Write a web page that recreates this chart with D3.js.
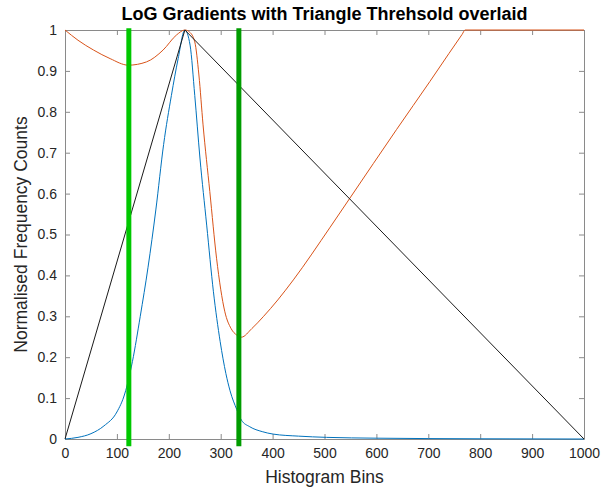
<!DOCTYPE html>
<html>
<head>
<meta charset="utf-8">
<script src="https://cdn.jsdelivr.net/npm/d3@7"></script>
<style>
  html, body { margin: 0; padding: 0; background: #fff; }
  text { font-family: "Liberation Sans", Arial, Helvetica, sans-serif; }
</style>
</head>
<body>
<svg id="chart" width="611" height="489"></svg>
<script>
// ---- Data ----
const xTicks = [0, 100, 200, 300, 400, 500, 600, 700, 800, 900, 1000];
const yTicks = [0, 0.1, 0.2, 0.3, 0.4, 0.5, 0.6, 0.7, 0.8, 0.9, 1];
const yTickLabels = ["0", "0.1", "0.2", "0.3", "0.4", "0.5", "0.6", "0.7", "0.8", "0.9", "1"];

// Normalised histogram of LoG gradients (blue)
const histBins = [0, 25, 50, 75, 100, 115, 130, 145, 160, 175, 190, 205, 218, 231, 241, 250, 260, 273, 286, 299, 310, 318, 331, 340, 356, 380, 401, 450, 504, 600, 700, 800, 1000];
const histVals = [0, 0.004, 0.013, 0.032, 0.066, 0.11, 0.19, 0.3, 0.42, 0.56, 0.72, 0.84, 0.93, 1.0, 0.963, 0.84, 0.687, 0.523, 0.36, 0.238, 0.16, 0.118, 0.072, 0.046, 0.03, 0.018, 0.012, 0.007, 0.004, 0.002, 0.001, 0.0005, 0];

// Distance curve (orange)
const distBins = [0, 25, 55, 87, 122, 157, 189, 215, 231, 240, 250, 258, 266, 279, 292, 308, 320, 331, 340, 360, 382, 410, 440, 511, 549, 639, 703, 740, 765, 771, 1000];
const distVals = [1, 0.975, 0.951, 0.93, 0.914, 0.922, 0.951, 0.988, 1.0, 0.995, 0.971, 0.89, 0.768, 0.605, 0.442, 0.311, 0.27, 0.254, 0.249, 0.27, 0.299, 0.34, 0.389, 0.518, 0.589, 0.757, 0.874, 0.943, 0.989, 1, 1];

// Triangle (black)
const triBins = [0, 231, 1000];
const triVals = [0, 1, 0];

// Thresholds (green)
const thresholdBins = [123, 335];
const thresholdColors = ["#00c800", "#009c00"];
const thresholdSpan = [-0.018, 1.004];

// ---- Layout ----
const svg = d3.select("#chart");
const mLeft = 65, mRight = 584, mTop = 30, mBottom = 439;
const x = d3.scaleLinear().domain([0, 1000]).range([mLeft, mRight]);
const y = d3.scaleLinear().domain([0, 1]).range([mBottom, mTop]);
const axisColor = "#8a8a8a";
const textColor = "#262626";

// Axes (box with inward ticks)
const gx = svg.append("g").attr("transform", `translate(0,${mBottom})`)
  .call(d3.axisBottom(x).tickValues(xTicks).tickSizeInner(-5).tickSizeOuter(0).tickPadding(9).tickFormat(d3.format("d")));
const gxTop = svg.append("g").attr("transform", `translate(0,${mTop})`)
  .call(d3.axisTop(x).tickValues(xTicks).tickSizeInner(-5).tickSizeOuter(0).tickFormat(""));
const gy = svg.append("g").attr("transform", `translate(${mLeft},0)`)
  .call(d3.axisLeft(y).tickValues(yTicks).tickSizeInner(-5).tickSizeOuter(0).tickPadding(8).tickFormat((d, i) => yTickLabels[i]));
const gyRight = svg.append("g").attr("transform", `translate(${mRight},0)`)
  .call(d3.axisRight(y).tickValues(yTicks).tickSizeInner(-5).tickSizeOuter(0).tickFormat(""));

[gx, gxTop, gy, gyRight].forEach(g => {
  g.select(".domain").attr("stroke", axisColor).attr("stroke-width", 1);
  g.selectAll(".tick line").attr("stroke", axisColor).attr("stroke-width", 1);
  g.selectAll(".tick text").attr("fill", textColor).style("font-size", "14px")
    .style("font-family", "'Liberation Sans', Arial, sans-serif");
});
gx.selectAll(".tick text").attr("dy", "0.71em");

// Lines
const line = d3.line().x(d => x(d[0])).y(d => y(d[1])).curve(d3.curveMonotoneX);
const straight = d3.line().x(d => x(d[0])).y(d => y(d[1]));

svg.append("path").datum(histBins.map((b, i) => [b, histVals[i]]))
  .attr("d", line).attr("fill", "none").attr("stroke", "#0072BD").attr("stroke-width", 1);
svg.append("path").datum(distBins.map((b, i) => [b, distVals[i]]))
  .attr("d", line).attr("fill", "none").attr("stroke", "#D95319").attr("stroke-width", 1);
svg.append("path").datum(triBins.map((b, i) => [b, triVals[i]]))
  .attr("d", straight).attr("fill", "none").attr("stroke", "#1a1a1a").attr("stroke-width", 1);

thresholdBins.forEach((b, i) => {
  svg.append("path").datum(thresholdSpan.map(v => [b, v]))
    .attr("d", straight).attr("fill", "none").attr("stroke", thresholdColors[i]).attr("stroke-width", 5);
});

// Title and labels
svg.append("text").attr("x", (mLeft + mRight) / 2).attr("y", 20).attr("text-anchor", "middle")
  .style("font-size", "18px").style("font-weight", "bold").attr("fill", "#000")
  .text("LoG Gradients with Triangle Threhsold overlaid");
svg.append("text").attr("x", (mLeft + mRight) / 2).attr("y", 483).attr("text-anchor", "middle")
  .style("font-size", "17.5px").attr("fill", textColor).text("Histogram Bins");
svg.append("text").attr("transform", `translate(27,${(mTop + mBottom) / 2}) rotate(-90)`).attr("text-anchor", "middle")
  .style("font-size", "17.5px").attr("fill", textColor).text("Normalised Frequency Counts");
</script>
</body>
</html>
